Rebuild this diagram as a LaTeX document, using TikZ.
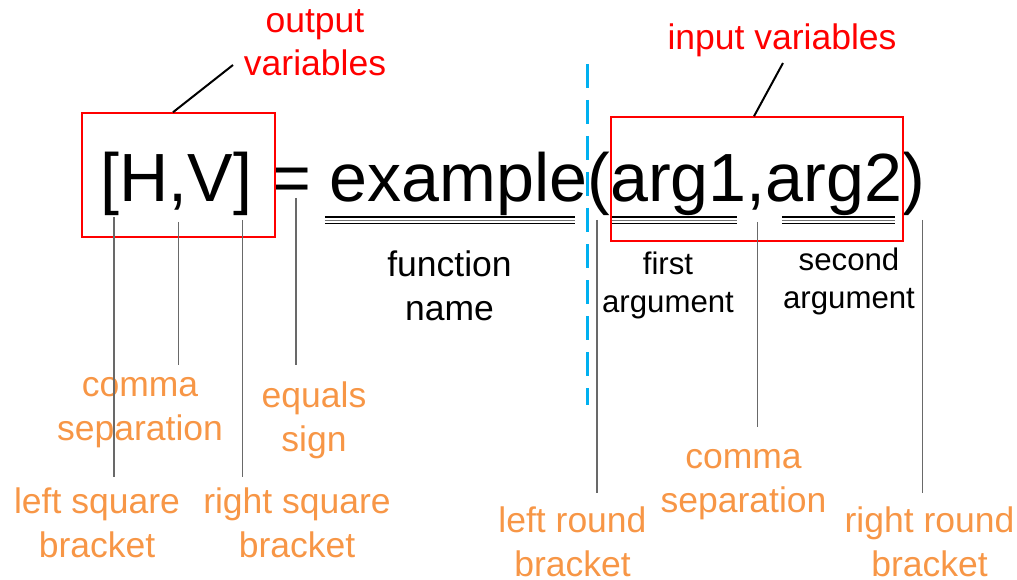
\documentclass[tikz,border=0pt]{standalone}
\usepackage{fontspec}
\setmainfont{Liberation Sans}
\definecolor{calloutred}{RGB}{255,0,0}
\definecolor{noteorange}{RGB}{247,150,70}
\definecolor{guideblue}{RGB}{0,176,240}
\definecolor{leadgrey}{RGB}{105,105,105}

\begin{document}
\begin{tikzpicture}[x=1pt,y=-1pt,
  glyph/.style={inner sep=0pt, outer sep=0pt, anchor=base west,
                font=\fontsize{68.2}{80}\selectfont},
  tag/.style={inner sep=0pt, outer sep=0pt, align=center, anchor=base,
              font=\fontsize{35.5}{43.5}\selectfont},
  smalltag/.style={tag, font=\fontsize{31.2}{37.5}\selectfont},
  redtag/.style={tag, text=calloutred},
  orangetag/.style={tag, text=noteorange},
  groupbox/.style={draw=calloutred, line width=1.5pt, inner sep=0pt,
                   minimum width=#1},
  pointer/.style={draw=black, line width=2pt},
  lead/.style={draw=leadgrey, line width=1.2pt},
  ulouter/.style={draw=black, line width=1.4pt},
  ulinner/.style={draw=black!55, line width=1.3pt},
  guide/.style={draw=guideblue, line width=3pt, dash pattern=on 24pt off 12pt}]

\useasboundingbox (0,0) rectangle (1017,580);

% the call statement, one node per token
\node[glyph] (lsq) at (100.5,202) {[};
\node[glyph] (H)   at (lsq.base east) {H};
\node[glyph] (c1)  at (H.base east) {,};
\node[glyph] (V)   at (c1.base east) {V};
\node[glyph] (rsq) at (V.base east) {]};
\node[glyph, xshift=18.96pt] (eq) at (rsq.base east) {=};
\node[glyph, xshift=18.96pt] (fn) at (eq.base east) {example};
\node[glyph] (lpar) at (fn.base east) {(};
\node[glyph] (arg1) at (lpar.base east) {arg1};
\node[glyph] (c2)   at (arg1.base east) {,};
\node[glyph] (arg2) at (c2.base east) {arg2};
\node[glyph] (rpar) at (arg2.base east) {)};

% triple underlines below the function name and the arguments
\foreach \d/\s in {15/ulouter,18.2/ulinner,21.4/ulouter}{
  \draw[\s] ([xshift=-5pt,yshift=-\d pt]fn.base west) -- ([xshift=-12.6pt,yshift=-\d pt]fn.base east);
  \draw[\s] ([xshift=2pt,yshift=-\d pt]arg1.base west) -- ([xshift=-10pt,yshift=-\d pt]arg1.base east);
  \draw[\s] ([xshift=16pt,yshift=-\d pt]arg2.base west) -- ([xshift=-7pt,yshift=-\d pt]arg2.base east);
}

% boxes around outputs and inputs
\node[groupbox=193pt, minimum height=124pt] (outbox) at (178.5,175) {};
\node[groupbox=292pt, minimum height=124pt] (inbox) at (757,179) {};

% red captions with their pointers (two-line nodes sit on their last baseline)
\node[redtag] (outlab) at (315,76) {output\\variables};
\node[redtag] (inlab) at (782,50) {input variables};
\coordinate (outend) at (233,65);
\coordinate (inend) at (783,63);
\draw[pointer] ([xshift=-5.5pt]outbox.north) -- (outend);
\draw[pointer] ([xshift=-3pt]inbox.north) -- (inend);

% dashed divider between function name and arguments
\coordinate (guidetop) at (587,64);
\coordinate (guidebot) at (587,405);
\draw[guide] (guidetop) -- (guidebot);

% black captions
\node[tag] (fnlab) at (449.5,320) {function\\name};
\node[smalltag] (a1lab) at (668,312) {first\\argument};
\node[smalltag] (a2lab) at (849,308) {second\\argument};

% orange captions
\node[orangetag] (c1lab)   at (140,440) {comma\\separation};
\node[orangetag] (eqlab)   at (314,451) {equals\\sign};
\node[orangetag] (lsqlab)  at (97,557)  {left square\\bracket};
\node[orangetag] (rsqlab)  at (297,557) {right square\\bracket};
\node[orangetag] (lparlab) at (572.5,576) {left round\\bracket};
\node[orangetag] (c2lab)   at (743.5,512) {comma\\separation};
\node[orangetag] (rparlab) at (929.5,576) {right round\\bracket};

% grey leads from each symbol down to its caption
\draw[lead] ([xshift=4pt,yshift=-15pt]lsq.base) -- ++(0,260);
\draw[lead] ([yshift=-20pt]c1.base) -- ++(0,143);
\draw[lead] ([yshift=-18pt]rsq.base) -- ++(0,257);
\draw[lead] ([xshift=5pt,yshift=4pt]eq.base) -- ++(0,167);
\draw[lead] ([xshift=-2pt,yshift=-18pt]lpar.base) -- ++(0,273);
\draw[lead] ([xshift=1pt,yshift=-20pt]c2.base) -- ++(0,205);
\draw[lead] ([xshift=9pt,yshift=-18pt]rpar.base) -- ++(0,273);
\end{tikzpicture}
\end{document}
